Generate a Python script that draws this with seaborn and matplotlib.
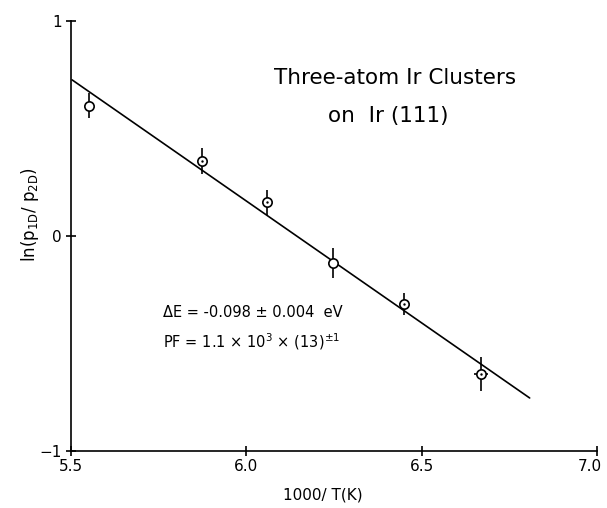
import matplotlib
matplotlib.use("Agg")
import matplotlib.pyplot as plt
import matplotlib.transforms as mtransforms
import seaborn as sns
import pandas as pd

# data
inv_T = [5.551, 5.873, 6.058, 6.246, 6.449, 6.668]
ln_ratio = [0.605, 0.349, 0.158, -0.126, -0.316, -0.642]
y_err = [0.058, 0.060, 0.058, 0.070, 0.052, 0.080]
x_err = [0.0, 0.0, 0.0, 0.0, 0.0, 0.02]
has_dot = [False, True, True, False, True, True]
fit_x = [5.503, 6.808]
fit_y = [0.726, -0.753]
x_ticks = [5.5, 6.0, 6.5, 7.0]
x_ticklabels = ["5.5", "6.0", "6.5", "7.0"]
y_ticks = [-1, 0, 1]
y_ticklabels = ["\u22121", "0", "1"]

sns.set_theme(style="white")
plt.rcParams['font.family'] = ['DejaVu Sans']
plt.rcParams['text.color'] = 'black'
plt.rcParams['axes.labelcolor'] = 'black'

df = pd.DataFrame({"x": inv_T, "y": ln_ratio, "dot": has_dot})
fit = pd.DataFrame({"x": fit_x, "y": fit_y})

fig = plt.figure(figsize=(6.07, 5.08), dpi=100)
ax = fig.add_axes([0.117, 0.112, 0.8665, 0.8468])

sns.lineplot(data=fit, x="x", y="y", ax=ax, color="black", lw=1.2)
ax.errorbar(inv_T, ln_ratio, yerr=y_err, xerr=x_err, fmt="none",
            ecolor="black", elinewidth=1.2, capsize=0, zorder=3)
sns.scatterplot(data=df, x="x", y="y", ax=ax, marker="o", s=45,
                facecolor="white", edgecolor="black", linewidth=1.2, zorder=4)
sns.scatterplot(data=df[df["dot"]], x="x", y="y", ax=ax, marker="o", s=3,
                color="black", linewidth=0, zorder=5)

ax.set_xlim(5.5, 7.0)
ax.set_ylim(-1, 1)
ax.set_xticks(x_ticks)
ax.set_xticklabels(x_ticklabels)
ax.set_yticks(y_ticks)
ax.set_yticklabels(y_ticklabels)
for s in ["top", "right"]:
    ax.spines[s].set_visible(False)
for s in ["left", "bottom"]:
    ax.spines[s].set_color("black")
    ax.spines[s].set_linewidth(1.2)
ax.tick_params(axis="both", direction="inout", length=7, width=1.2,
               colors="black", labelsize=11, pad=2, bottom=True, left=True)
ax.tick_params(axis="y", pad=3)

# keep the last x tick label inside the figure, slightly left of its tick
last = ax.get_xticklabels()[-1]
last.set_horizontalalignment("right")
last.set_transform(last.get_transform() +
                   mtransforms.ScaledTranslation(5 / 100, 0, fig.dpi_scale_trans))

ax.set_xlabel("1000/ T(K)", fontsize=11)
ax.xaxis.set_label_coords(0.479, -0.085)
ax.set_ylabel(r"ln(p$_{\mathregular{1D}}$/ p$_{\mathregular{2D}}$)", fontsize=12)
ax.yaxis.set_label_coords(-0.058, 0.55)

ax.text(0.617, 0.868, "Three-atom Ir Clusters", transform=ax.transAxes,
        fontsize=15.5, ha="center", va="center")
ax.text(0.603, 0.779, "on  Ir (111)", transform=ax.transAxes,
        fontsize=15.5, ha="center", va="center")
ax.text(0.175, 0.323, "\u0394E = -0.098 \u00b1 0.004  eV", transform=ax.transAxes,
        fontsize=10.5, ha="left", va="center")
ax.text(0.175, 0.255, r"PF = 1.1 $\times$ 10$^{3}$ $\times$ (13)$^{\pm 1}$",
        transform=ax.transAxes, fontsize=10.5, ha="left", va="center")

fig.savefig("out.png", dpi=100)
